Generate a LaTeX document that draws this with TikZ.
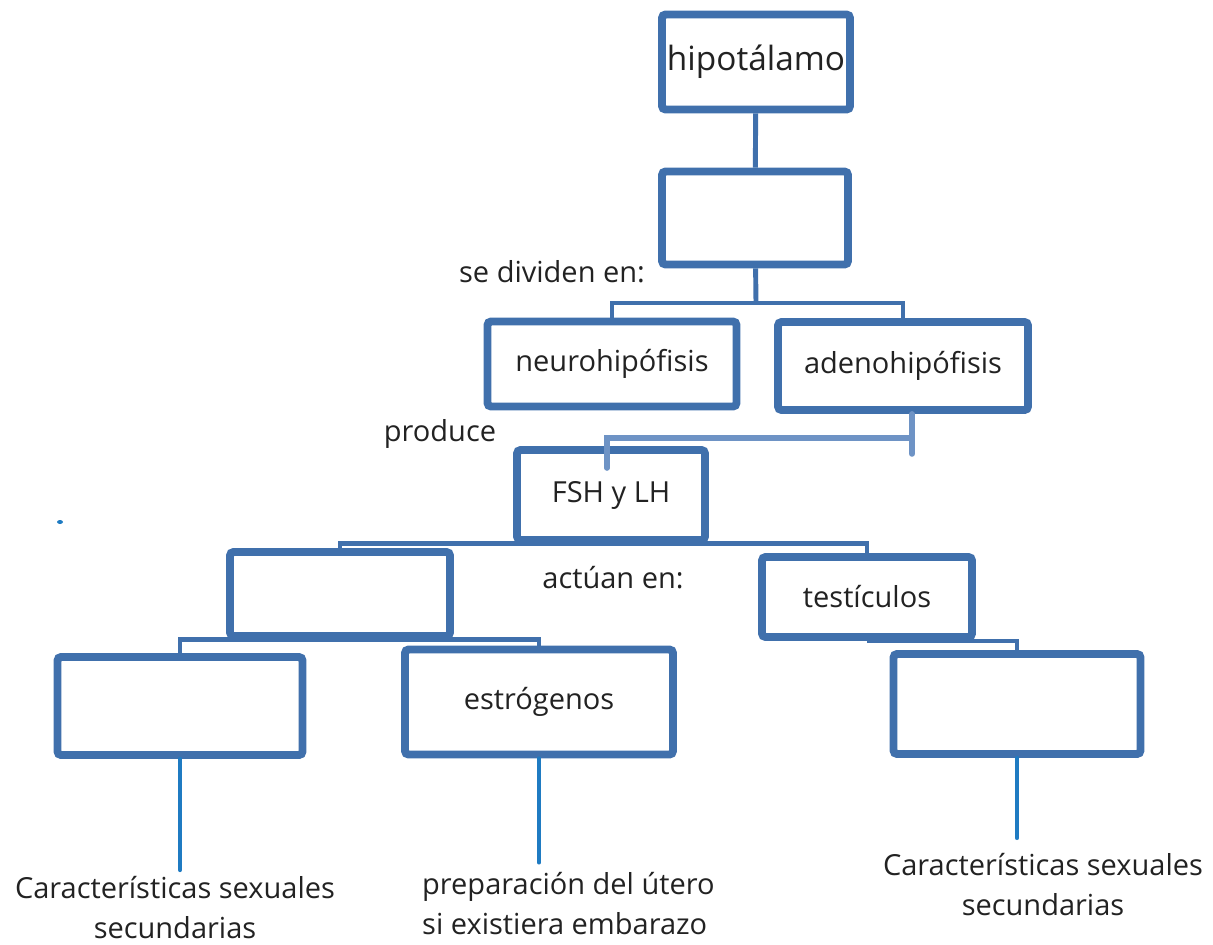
\documentclass[tikz,border=0pt]{standalone}
\usepackage{fontspec}
\setmainfont{Open Sans}
\usetikzlibrary{shadows}
\definecolor{borde}{HTML}{4070AC}
\definecolor{guiaazul}{HTML}{1F7BC2}
\definecolor{corchete}{HTML}{6E93C5}
\definecolor{tinta}{HTML}{222222}

\begin{document}
\begin{tikzpicture}[x=0.02cm,y=-0.02cm,
  font=\fontsize{16.5}{23}\selectfont,text=tinta,
  caja/.style={draw=borde,line width=4.5pt,rounded corners=2pt,fill=white,inner sep=0pt,
    drop shadow={shadow xshift=1.2pt,shadow yshift=-1.8pt,opacity=0.3,fill=black}},
  union/.style={draw=borde,line width=2.8pt},
  guia/.style={draw=guiaazul,line width=2.4pt,line cap=round},
  trazo/.style={draw=corchete,line width=3.2pt,line cap=round}]
\useasboundingbox (0,0) rectangle (1213,944);
\node(hip) at (756,62) [caja,minimum width=3.76cm,minimum height=1.9cm] {\fontsize{19}{22}\selectfont hipotálamo};
\node(hipof) at (755,218) [caja,minimum width=3.72cm,minimum height=1.86cm] {};
\node(neuro) at (612,364) [caja,minimum width=4.98cm,minimum height=1.7cm] {neurohipófisis};
\node(adeno) at (903,366) [caja,minimum width=5cm,minimum height=1.76cm] {adenohipófisis};
\node(fsh) at (611,495) [caja,minimum width=3.76cm,minimum height=1.8cm] {FSH y LH};
\node(ovario) at (340,594) [caja,minimum width=4.4cm,minimum height=1.68cm] {};
\node(testi) at (867,597) [caja,minimum width=4.2cm,minimum height=1.6cm] {testículos};
\node(izq) at (180,706) [caja,minimum width=4.9cm,minimum height=1.96cm] {};
\node(estro) at (539,702) [caja,minimum width=5.36cm,minimum height=2.1cm] {estrógenos};
\node(der) at (1017,704) [caja,minimum width=4.94cm,minimum height=2cm] {};
\node(divide) at (552,272) {se dividen en:};
\node(produce) at (440,434) {produce};
\node(actuan) at (613,578) {actúan en:};
\node(t1) at (175,870) [anchor=north,align=center] {Características sexuales\\secundarias};
\node(t2) at (416,866) [anchor=north west,align=left] {preparación del útero\\si existiera embarazo};
\node(t3) at (1043,847) [anchor=north,align=center] {Características sexuales\\secundarias};
\fill[guiaazul] (60,522) ellipse (0.06cm and 0.04cm);
\coordinate(b1) at (756,303);
\coordinate(k1) at (912,438);
\coordinate(k2) at (607,438);
\draw[union] (hip) -- (hipof);
\draw[union] (hipof) -- (b1);
\draw[union] (neuro.north) |- (b1) -| (adeno.north);
\draw[union] (ovario.north) |- (fsh.south) -| (testi.north);
\draw[union] (izq.north) |- (ovario.south) -| (estro.north);
\draw[union] (testi.south) -| (der.north);
\draw[trazo] (adeno.south -| k1) -- ++(0,40);
\draw[trazo] (k1) -- (k2) -- ++(0,30);
\draw[guia] (izq.south) -- (izq.south |- t1.north);
\draw[guia] (estro.south) -- ++(0,104);
\draw[guia] (der.south) -- ++(0,80);
\end{tikzpicture}
\end{document}
